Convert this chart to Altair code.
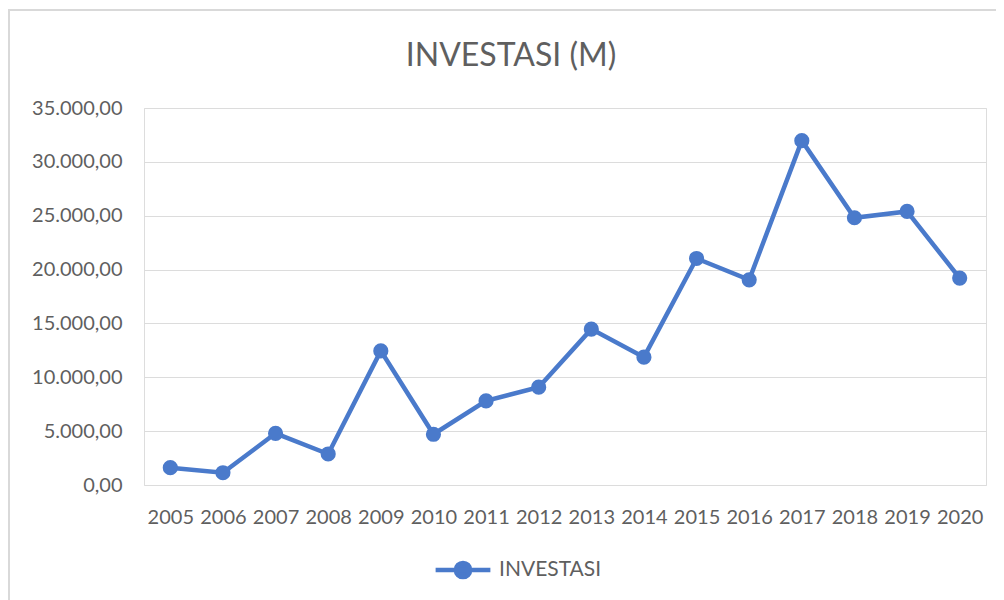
import altair as alt
import pandas as pd

years = [str(y) for y in range(2005, 2021)]
investasi = [1610, 1140, 4800, 2880, 12450, 4710, 7810, 9080,
             14470, 11870, 21030, 19050, 31970, 24810, 25400, 19210]
series_name = ["INVESTASI"]
chart_title = ["INVESTASI (M)"]
y_ticks = [0, 5000, 10000, 15000, 20000, 25000, 30000, 35000]

df = pd.DataFrame({"tahun": years, "nilai": investasi, "seri": series_name * len(years)})

BLUE = "#4a7acb"
GREY = "#5f5f5f"
FONT = "Lato"

W, H = 842, 377

legend_path = "M-1,0L1,0M-0.26,0A0.26,0.26,0,1,1,0.26,0A0.26,0.26,0,1,1,-0.26,0Z"

frame = alt.Chart(pd.DataFrame({"k": [0]})).mark_rect(
    fillOpacity=0, stroke="#d9d9d9", strokeWidth=2
).encode(
    x=alt.value(-135), x2=alt.value(W + 40),
    y=alt.value(-98), y2=alt.value(H + 140)
)

title = alt.Chart(pd.DataFrame({"t": chart_title})).mark_text(
    font=FONT, fontSize=32, color=GREY, align="center", baseline="alphabetic"
).encode(text="t:N", x=alt.value(367), y=alt.value(-42))

line = alt.Chart(df).mark_line(
    strokeWidth=4.5,
    point=alt.OverlayMarkDef(filled=True, size=230, color=BLUE, opacity=1),
).encode(
    x=alt.X("tahun:O", sort=years,
            scale=alt.Scale(type="point", padding=0.5),
            axis=alt.Axis(title=None, labelAngle=0, domain=False, ticks=False,
                          labelFont=FONT, labelFontSize=20, labelColor=GREY,
                          labelPadding=22, grid=False)),
    y=alt.Y("nilai:Q",
            scale=alt.Scale(domain=[0, 35000], nice=False, zero=True),
            axis=alt.Axis(title=None, values=y_ticks, domain=False, ticks=False,
                          labelExpr="replace(replace(replace(format(datum.value, ',.2f'), ',', '#'), '.', ','), '#', '.')",
                          labelFont=FONT, labelFontSize=20, labelColor=GREY,
                          labelPadding=22, grid=True, gridColor="#dcdcdc",
                          gridWidth=1.2)),
    color=alt.Color("seri:N",
                    scale=alt.Scale(domain=series_name, range=[BLUE]),
                    legend=alt.Legend(title=None, orient="none",
                                      legendX=289, legendY=432,
                                      symbolType=legend_path, symbolSize=3000,
                                      symbolStrokeWidth=4.5,
                                      symbolFillColor=BLUE,
                                      labelFont=FONT, labelFontSize=21,
                                      labelColor=GREY, labelOffset=6)),
)

chart = alt.layer(frame, title, line).properties(
    width=W, height=H,
    padding={"left": 136, "top": 100, "right": 10, "bottom": 120},
    autosize=alt.AutoSizeParams(type="none"),
).configure_view(stroke=None).configure(background="white")

chart.save("out.html", embed_options={"renderer": "svg", "actions": False})
